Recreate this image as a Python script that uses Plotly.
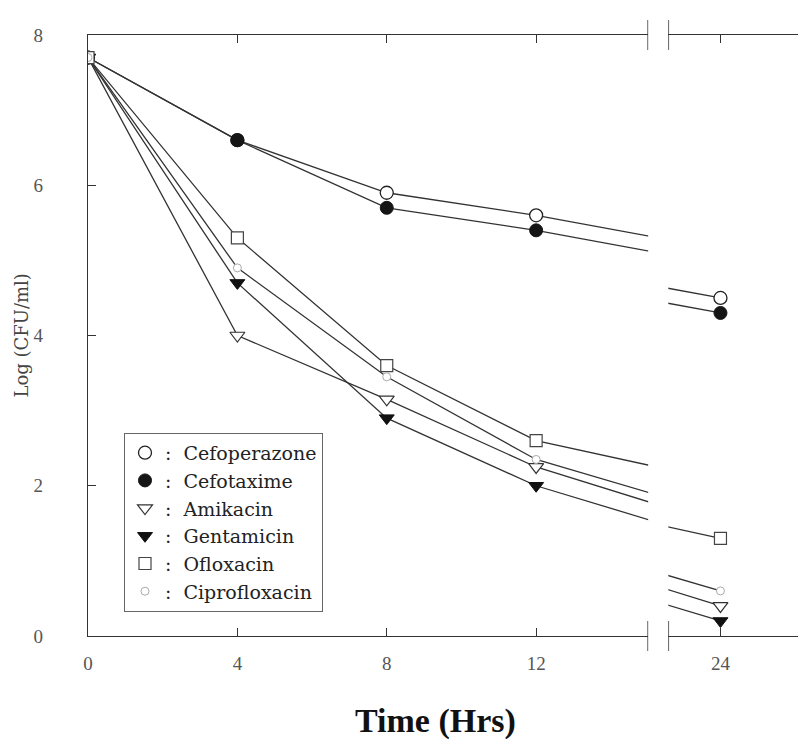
import plotly.graph_objects as go

# ---- data ----
time_hrs = [0, 4, 8, 12, 24]
cefoperazone = [7.7, 6.6, 5.9, 5.6, 4.5]
cefotaxime = [7.7, 6.6, 5.7, 5.4, 4.3]
amikacin = [7.7, 4.0, 3.15, 2.25, 0.4]
gentamicin = [7.7, 4.7, 2.9, 2.0, 0.2]
ofloxacin = [7.7, 5.3, 3.6, 2.6, 1.3]
ciprofloxacin = [7.7, 4.9, 3.45, 2.35, 0.6]

names = ["Cefoperazone", "Cefotaxime", "Amikacin", "Gentamicin", "Ofloxacin", "Ciprofloxacin"]
series = [cefoperazone, cefotaxime, amikacin, gentamicin, ofloxacin, ciprofloxacin]

left_ticks = [0, 4, 8, 12]
right_ticks = [24]
y_ticks = [0, 2, 4, 6, 8]

X_LEFT = [0, 15]
X_RIGHT = [22.6, 26.35]
Y_RANGE = [0, 8]

# ---- styles ----
styles = [
    dict(symbol="circle", size=13, color="white", line=dict(color="#222", width=1.3)),
    dict(symbol="circle", size=13, color="#151515", line=dict(color="#151515", width=1)),
    dict(symbol="triangle-down", size=13, color="white", line=dict(color="#333", width=1.2)),
    dict(symbol="triangle-down", size=13, color="#111", line=dict(color="#111", width=1)),
    dict(symbol="square", size=12, color="white", line=dict(color="#444", width=1.2)),
    dict(symbol="circle", size=8, color="white", line=dict(color="#aaa", width=1)),
]

fig = go.Figure()
panels = (("x", "y"), ("x2", "y2"))
# lines first
for nm, ys in zip(names, series):
    for xa, ya in panels:
        fig.add_trace(go.Scatter(
            x=time_hrs, y=ys, mode="lines", xaxis=xa, yaxis=ya, showlegend=False,
            line=dict(color="#333", width=1.3), hoverinfo="skip",
        ))
# markers on top (legend shows markers only)
for nm, ys, st in zip(names, series, styles):
    for (xa, ya), show in zip(panels, (True, False)):
        fig.add_trace(go.Scatter(
            x=time_hrs, y=ys, name=":  " + nm, mode="markers",
            xaxis=xa, yaxis=ya, showlegend=show, cliponaxis=True, marker=st,
        ))

tick_font = dict(family="Liberation Serif", size=19, color="#555")
axis_common = dict(showline=True, linecolor="#333", linewidth=1.3, ticks="inside",
                   ticklen=8, tickcolor="#333", showgrid=False, zeroline=False,
                   tickfont=tick_font)

fig.update_layout(
    width=806, height=744,
    margin=dict(l=80, r=6, t=27, b=116),
    paper_bgcolor="white", plot_bgcolor="white",
    xaxis=dict(domain=[0, 0.778], range=X_LEFT, tickvals=left_ticks, mirror="ticks",
               anchor="y", ticklabelstandoff=10, **axis_common),
    xaxis2=dict(domain=[0.806, 1.0], range=X_RIGHT, tickvals=right_ticks, mirror="ticks",
                anchor="y2", ticklabelstandoff=10, **axis_common),
    yaxis=dict(range=Y_RANGE, tickvals=y_ticks, anchor="x", ticklabelstandoff=40,
               **axis_common),
    yaxis2=dict(range=Y_RANGE, tickvals=y_ticks, anchor="x2", side="right",
                showticklabels=False, **axis_common),
    legend=dict(x=0.05, y=0.338, xanchor="left", yanchor="top",
                bgcolor="white", bordercolor="#666", borderwidth=1,
                font=dict(family="DejaVu Serif", size=19, color="#222"),
                itemwidth=30, tracegroupgap=0),
    showlegend=True,
)

# axis-break marks at the panel edges
for xref, yref, xv in (("x", "y domain", X_LEFT[1]), ("x2", "y2 domain", X_RIGHT[0])):
    for y0, y1 in ((-0.025, 0.025), (0.975, 1.025)):
        fig.add_shape(type="line", xref=xref, yref=yref,
                      x0=xv, x1=xv, y0=y0, y1=y1, line=dict(color="#333", width=1.5))

fig.add_annotation(text="<b>Time (Hrs)</b>", xref="paper", yref="paper", x=0.483, y=-0.142,
                   xanchor="center", yanchor="middle", showarrow=False,
                   font=dict(family="Liberation Serif", size=34, color="#111"))
fig.add_annotation(text="Log (CFU/ml)", xref="paper", yref="paper", x=-0.093, y=0.5,
                   xanchor="center", yanchor="middle", showarrow=False, textangle=-90,
                   font=dict(family="DejaVu Serif", size=18, color="#444"))

fig.write_html("out.html")
